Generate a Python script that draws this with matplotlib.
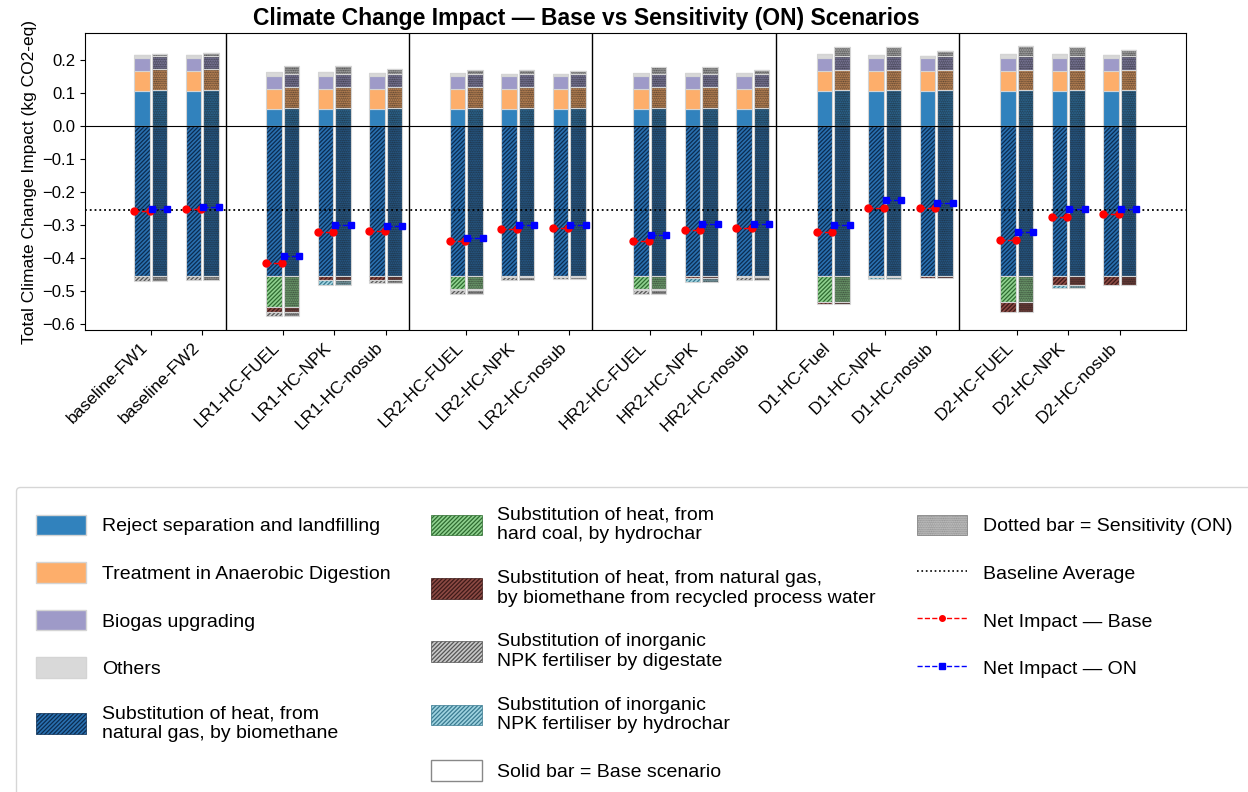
import matplotlib.pyplot as plt
import matplotlib.patches as mpatches
from matplotlib.lines import Line2D
import numpy as np

plt.rcParams['font.family'] = ['Liberation Sans', 'DejaVu Sans']
plt.rcParams['hatch.linewidth'] = 0.9

scenarios = ['baseline-FW1', 'baseline-FW2',
             'LR1-HC-FUEL', 'LR1-HC-NPK', 'LR1-HC-nosub',
             'LR2-HC-FUEL', 'LR2-HC-NPK', 'LR2-HC-nosub',
             'HR2-HC-FUEL', 'HR2-HC-NPK', 'HR2-HC-nosub',
             'D1-HC-Fuel', 'D1-HC-NPK', 'D1-HC-nosub',
             'D2-HC-FUEL', 'D2-HC-NPK', 'D2-HC-nosub']
group_sizes = [2, 3, 3, 3, 3, 3]

# positive contributions - base scenario
reject_base = [0.106, 0.106, 0.0515, 0.0515, 0.0515, 0.0515, 0.0515, 0.0515,
               0.0515, 0.0515, 0.0515, 0.1067, 0.1067, 0.1067, 0.1067, 0.1067, 0.1067]
ad_base = [0.061, 0.061, 0.0605, 0.0605, 0.0605, 0.0605, 0.0605, 0.0605,
           0.0605, 0.0605, 0.0605, 0.0595, 0.0595, 0.0595, 0.0595, 0.0595, 0.0595]
biogas_base = [0.039, 0.039, 0.0395, 0.0395, 0.0395, 0.040, 0.040, 0.040,
               0.040, 0.040, 0.040, 0.0393, 0.0393, 0.0393, 0.0393, 0.0393, 0.0393]
others_base = [0.007, 0.007, 0.010, 0.010, 0.0075, 0.007, 0.004, 0.004,
               0.007, 0.007, 0.007, 0.011, 0.009, 0.006, 0.012, 0.011, 0.009]

# positive contributions - sensitivity (ON)
reject_on = [0.109, 0.109, 0.0535, 0.0535, 0.0535, 0.0535, 0.0535, 0.0535,
             0.0535, 0.0535, 0.0535, 0.109, 0.109, 0.109, 0.109, 0.109, 0.109]
ad_on = [0.063, 0.063, 0.0635, 0.0635, 0.0635, 0.0635, 0.0635, 0.0635,
         0.0635, 0.0635, 0.0635, 0.0607, 0.0607, 0.0607, 0.0607, 0.0607, 0.0607]
biogas_on = [0.0395, 0.0395, 0.040, 0.040, 0.040, 0.040, 0.040, 0.040,
             0.040, 0.040, 0.040, 0.0418, 0.0418, 0.0418, 0.0418, 0.0418, 0.0418]
others_on = [0.0065, 0.0085, 0.025, 0.025, 0.0157, 0.0127, 0.011, 0.008,
             0.0203, 0.0203, 0.0127, 0.0282, 0.0282, 0.0151, 0.0302, 0.0282, 0.0181]

# negative contributions (same for base and ON)
biomethane = [-0.4535] * 17
hydrochar_heat = [0, 0, -0.0955, 0, 0, -0.040, 0, 0, -0.040, 0, 0,
                  -0.0805, 0, 0, -0.0805, 0, 0]
recycled_water = [0, 0, -0.0135, -0.013, -0.013, -0.004, -0.003, -0.002,
                  -0.004, -0.005, -0.004, -0.004, -0.004, -0.005, -0.030, -0.028, -0.028]
npk_digestate = [-0.0155, -0.0115, -0.013, 0, -0.010, -0.0105, -0.010, -0.009,
                 -0.0105, 0, -0.010, 0, 0, 0, 0, 0, 0]
npk_hydrochar = [0, 0, 0, -0.015, 0, 0, 0, 0, 0, -0.015, 0, 0, -0.006, 0, 0, -0.010, 0]

pos_labels = ['Reject separation and landfilling', 'Treatment in Anaerobic Digestion',
              'Biogas upgrading', 'Others']
pos_colors = ['#3182bd', '#fdae6b', '#9e9ac8', '#d9d9d9']
neg_labels = ['Substitution of heat, from\nnatural gas, by biomethane',
              'Substitution of heat, from\nhard coal, by hydrochar',
              'Substitution of heat, from natural gas,\nby biomethane from recycled process water',
              'Substitution of inorganic\nNPK fertiliser by digestate',
              'Substitution of inorganic\nNPK fertiliser by hydrochar']
neg_colors = ['#2a70b0', '#8fd18f', '#8c4a44', '#c8c8c8', '#9fd3e0']
neg_hatch_colors = ['#0b2c50', '#2e6b30', '#3d1a18', '#555555', '#3a7a90']

# x positions with a gap between scenario groups
x = []
seps = []
pos = 0.0
for gi, n in enumerate(group_sizes):
    if gi > 0:
        seps.append(pos - 1 + 0.45)
        pos += 0.56
    for j in range(n):
        x.append(pos)
        pos += 1
x = np.array(x)

w = 0.3
off = 0.17

fig, ax = plt.subplots(figsize=(12.48, 7.92), dpi=100)
fig.subplots_adjust(left=0.068, right=0.950, top=0.958, bottom=0.583)


def draw_stack(xs, comps, colors, hatches, hcolors):
    bottom_pos = np.zeros(len(xs))
    bottom_neg = np.zeros(len(xs))
    for vals, c, h, hc in zip(comps, colors, hatches, hcolors):
        vals = np.array(vals)
        b = np.where(vals >= 0, bottom_pos, bottom_neg)
        ax.bar(xs, vals, w, bottom=b, color=c, hatch=h, edgecolor=hc, linewidth=0)
        ax.bar(xs, vals, w, bottom=b, fill=False, edgecolor='#d4d4d4', linewidth=0.8)
        bottom_pos = bottom_pos + np.where(vals >= 0, vals, 0)
        bottom_neg = bottom_neg + np.where(vals < 0, vals, 0)


neg_comps = [biomethane, hydrochar_heat, recycled_water, npk_digestate, npk_hydrochar]

# base bars
draw_stack(x - off,
           [reject_base, ad_base, biogas_base, others_base] + neg_comps,
           pos_colors + neg_colors,
           [None] * 4 + ['////////'] * 5,
           pos_colors + neg_hatch_colors)

# sensitivity (ON) bars
draw_stack(x + off,
           [reject_on, ad_on, biogas_on, others_on] + neg_comps,
           pos_colors + neg_colors,
           ['.........'] * 9,
           ['#1a1a1a'] * 9)

net_base = np.sum([reject_base, ad_base, biogas_base, others_base] + neg_comps, axis=0)
net_on = np.sum([reject_on, ad_on, biogas_on, others_on] + neg_comps, axis=0)
baseline_avg = np.mean(net_base[:2])

for xi, nb, no in zip(x, net_base, net_on):
    ax.plot([xi - off - w / 2, xi - off + w / 2], [nb, nb], 'r--', marker='o',
            markersize=5, linewidth=1, zorder=5)
    ax.plot([xi + off - w / 2, xi + off + w / 2], [no, no], 'b--', marker='s',
            markersize=5, linewidth=1, zorder=5)

ax.axhline(0, color='black', linewidth=0.8)
ax.axhline(baseline_avg, color='black', linestyle=':', linewidth=1.3)
for s in seps:
    ax.axvline(s, color='black', linewidth=1)

ax.set_xticks(x)
ax.set_xticklabels(scenarios, rotation=45, ha='right', fontsize=12.5)
ax.set_yticks(np.arange(-0.6, 0.25, 0.1))
ax.tick_params(axis='y', labelsize=12)
ax.set_xlim(-1.28, x[-1] + 1.28)
ax.set_ylim(-0.618, 0.28)
ax.set_ylabel('Total Climate Change Impact (kg CO2-eq)', fontsize=12.5)
fig.text(0.470, 0.977, 'Climate Change Impact \u2014 Base vs Sensitivity (ON) Scenarios',
         fontsize=16.5, fontweight='bold', ha='center', va='center')

handles = []
for lab, c in zip(pos_labels, pos_colors):
    handles.append(mpatches.Patch(facecolor=c, edgecolor='#d4d4d4', label=lab))
for lab, c, hc in zip(neg_labels, neg_colors, neg_hatch_colors):
    handles.append(mpatches.Patch(facecolor=c, edgecolor=hc, hatch='////////',
                                  linewidth=0.5, label=lab))
handles.append(mpatches.Patch(facecolor='white', edgecolor='#888888',
                              label='Solid bar = Base scenario'))
handles.append(mpatches.Patch(facecolor='#d9d9d9', edgecolor='#777777', hatch='.........',
                              linewidth=0.5, label='Dotted bar = Sensitivity (ON)'))
handles.append(Line2D([], [], color='black', linestyle=':', linewidth=1.2,
                      label='Baseline Average'))
handles.append(Line2D([], [], color='red', linestyle='--', marker='o', markersize=4,
                      linewidth=1, label='Net Impact \u2014 Base'))
handles.append(Line2D([], [], color='blue', linestyle='--', marker='s', markersize=4,
                      linewidth=1, label='Net Impact \u2014 ON'))

fig.legend(handles=handles, ncol=3, loc='upper left', bbox_to_anchor=(0.013, 0.385),
           fontsize=14, handlelength=2.6, handleheight=1.25, labelspacing=1.38,
           columnspacing=2.1, borderpad=1.0, handletextpad=0.8, borderaxespad=0,
           frameon=True)

plt.savefig('out.png', dpi=100)
